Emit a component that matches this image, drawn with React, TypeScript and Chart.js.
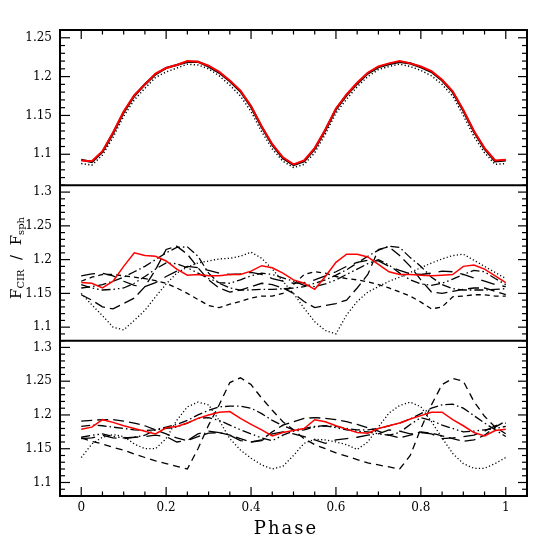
import React, { useEffect, useRef } from 'react';
import { Chart, registerables } from 'chart.js';

Chart.register(...registerables);

// ---------- data ----------
const phase = [0, 0.025, 0.05, 0.075, 0.1, 0.125, 0.15, 0.175, 0.2, 0.225, 0.25, 0.275, 0.3, 0.325, 0.35, 0.375, 0.4, 0.425, 0.45, 0.475, 0.5, 0.525, 0.55, 0.575, 0.6, 0.625, 0.65, 0.675, 0.7, 0.725, 0.75, 0.775, 0.8, 0.825, 0.85, 0.875, 0.9, 0.925, 0.95, 0.975, 1];

// top panel
const topRed = [1.092,1.091,1.104,1.128,1.155,1.176,1.190,1.204,1.211,1.215,1.220,1.219,1.214,1.206,1.195,1.182,1.162,1.136,1.113,1.096,1.087,1.092,1.108,1.132,1.159,1.177,1.192,1.205,1.213,1.217,1.220,1.217,1.213,1.207,1.196,1.181,1.157,1.130,1.108,1.092,1.093];
const topSolid = [1.093,1.090,1.103,1.127,1.154,1.175,1.190,1.203,1.211,1.215,1.219,1.219,1.213,1.205,1.194,1.181,1.161,1.135,1.112,1.095,1.086,1.091,1.107,1.131,1.158,1.176,1.191,1.204,1.212,1.216,1.219,1.217,1.212,1.206,1.195,1.180,1.156,1.129,1.107,1.091,1.092];
const topDotted = [1.088,1.086,1.099,1.122,1.149,1.170,1.185,1.199,1.206,1.211,1.216,1.215,1.210,1.201,1.189,1.175,1.155,1.129,1.107,1.091,1.083,1.087,1.102,1.126,1.153,1.171,1.187,1.200,1.209,1.213,1.216,1.213,1.208,1.201,1.190,1.175,1.150,1.123,1.102,1.087,1.088];

// middle panel
const midRed = [1.166,1.165,1.158,1.168,1.190,1.210,1.206,1.205,1.198,1.186,1.177,1.178,1.176,1.176,1.178,1.178,1.183,1.191,1.188,1.180,1.170,1.165,1.156,1.175,1.196,1.208,1.208,1.204,1.193,1.182,1.178,1.178,1.177,1.176,1.177,1.178,1.190,1.192,1.186,1.176,1.166];
const midDotted = [1.150,1.133,1.117,1.100,1.096,1.110,1.125,1.145,1.164,1.180,1.189,1.195,1.198,1.201,1.202,1.205,1.211,1.202,1.186,1.168,1.150,1.128,1.108,1.095,1.090,1.118,1.138,1.152,1.160,1.168,1.174,1.181,1.188,1.195,1.201,1.206,1.208,1.199,1.190,1.181,1.172];
const midLongDash = [1.148,1.140,1.130,1.127,1.135,1.143,1.160,1.185,1.215,1.220,1.208,1.188,1.170,1.158,1.152,1.155,1.160,1.165,1.163,1.158,1.150,1.138,1.129,1.132,1.135,1.140,1.158,1.178,1.215,1.219,1.206,1.190,1.170,1.152,1.150,1.153,1.156,1.158,1.158,1.153,1.148];
const midDashDot = [1.158,1.160,1.163,1.168,1.174,1.182,1.190,1.200,1.210,1.218,1.219,1.205,1.180,1.165,1.158,1.155,1.155,1.156,1.156,1.157,1.158,1.160,1.165,1.170,1.177,1.185,1.195,1.205,1.214,1.220,1.218,1.203,1.190,1.174,1.163,1.157,1.155,1.155,1.155,1.156,1.157];
const midShortDash = [1.168,1.174,1.178,1.178,1.176,1.174,1.172,1.169,1.165,1.158,1.150,1.141,1.132,1.129,1.134,1.138,1.143,1.146,1.146,1.150,1.163,1.178,1.182,1.180,1.175,1.172,1.170,1.167,1.163,1.158,1.152,1.146,1.137,1.127,1.130,1.145,1.146,1.148,1.148,1.146,1.146];
const midWideDash = [1.176,1.179,1.180,1.176,1.168,1.162,1.160,1.166,1.175,1.183,1.190,1.188,1.184,1.180,1.178,1.179,1.181,1.178,1.172,1.168,1.165,1.166,1.170,1.176,1.182,1.190,1.196,1.199,1.198,1.190,1.184,1.179,1.178,1.180,1.183,1.182,1.178,1.173,1.168,1.163,1.160];
const midDashDotDot = [1.163,1.158,1.155,1.156,1.158,1.165,1.175,1.186,1.195,1.194,1.188,1.180,1.172,1.166,1.165,1.170,1.176,1.180,1.178,1.173,1.168,1.162,1.160,1.164,1.170,1.178,1.186,1.194,1.200,1.192,1.180,1.170,1.164,1.162,1.165,1.171,1.178,1.184,1.182,1.172,1.163];

// bottom panel
const botRed = [1.179,1.182,1.193,1.189,1.184,1.180,1.176,1.172,1.181,1.183,1.188,1.195,1.200,1.204,1.205,1.195,1.186,1.178,1.169,1.174,1.177,1.180,1.193,1.190,1.184,1.179,1.174,1.173,1.180,1.184,1.188,1.194,1.199,1.204,1.204,1.193,1.184,1.174,1.169,1.177,1.179];
const botShortDash = [1.166,1.161,1.157,1.152,1.148,1.142,1.137,1.132,1.128,1.124,1.120,1.150,1.185,1.215,1.248,1.255,1.245,1.225,1.207,1.190,1.178,1.165,1.156,1.150,1.144,1.139,1.134,1.129,1.126,1.123,1.120,1.140,1.180,1.215,1.245,1.254,1.250,1.220,1.198,1.182,1.172];
const botDotted = [1.137,1.157,1.167,1.171,1.168,1.157,1.150,1.150,1.165,1.192,1.212,1.219,1.215,1.192,1.165,1.148,1.136,1.126,1.120,1.124,1.140,1.158,1.164,1.163,1.160,1.156,1.149,1.160,1.182,1.203,1.214,1.219,1.212,1.190,1.166,1.143,1.128,1.121,1.121,1.128,1.137];
const botDashDot = [1.183,1.185,1.184,1.182,1.180,1.178,1.177,1.178,1.182,1.186,1.192,1.200,1.207,1.212,1.213,1.213,1.210,1.202,1.192,1.184,1.178,1.180,1.183,1.184,1.183,1.180,1.178,1.178,1.180,1.184,1.188,1.194,1.202,1.210,1.215,1.216,1.210,1.199,1.188,1.178,1.168];
const botLongDash = [1.191,1.192,1.193,1.193,1.191,1.188,1.184,1.178,1.172,1.166,1.162,1.168,1.173,1.174,1.170,1.165,1.160,1.163,1.175,1.185,1.190,1.195,1.196,1.195,1.193,1.190,1.186,1.181,1.176,1.170,1.166,1.170,1.175,1.173,1.169,1.165,1.161,1.163,1.170,1.182,1.191];
const botDashDotDot = [1.167,1.170,1.172,1.168,1.166,1.167,1.170,1.178,1.180,1.182,1.188,1.195,1.196,1.192,1.185,1.178,1.172,1.166,1.162,1.170,1.176,1.178,1.182,1.184,1.181,1.178,1.176,1.175,1.172,1.170,1.174,1.186,1.196,1.192,1.185,1.180,1.175,1.176,1.178,1.180,1.183];
const botWideDash = [1.165,1.166,1.170,1.166,1.165,1.167,1.168,1.170,1.168,1.160,1.162,1.172,1.176,1.174,1.170,1.162,1.160,1.162,1.172,1.175,1.172,1.168,1.163,1.158,1.163,1.165,1.167,1.170,1.172,1.178,1.176,1.172,1.174,1.172,1.165,1.166,1.168,1.170,1.176,1.184,1.188];

// tick labels
const xTickLabels = [0, 0.2, 0.4, 0.6, 0.8, 1];
const topTickLabels = [1.1, 1.15, 1.2, 1.25];
const midTickLabels = [1.1, 1.15, 1.2, 1.25, 1.3];
const botTickLabels = [1.1, 1.15, 1.2, 1.25, 1.3];

const FONT = "'DejaVu Serif', 'Liberation Serif', serif";

const DOT = [1.2, 2.3];
const SHORT = [5, 4];
const LONG = [11, 5];
const DASHDOT = [9, 3, 1.5, 3];
const WIDE = [14, 8];
const DASHDOTDOT = [9, 3, 1.5, 3, 1.5, 3];

function ds(values: number[], axis: string, color: string, width: number, dash: number[], order: number) {
  return {
    data: phase.map((p, i) => ({ x: p, y: values[i] })),
    yAxisID: axis,
    borderColor: color,
    borderWidth: width,
    borderDash: dash,
    pointRadius: 0,
    tension: 0,
    fill: false,
    order,
  };
}

const fmt = (v: number) => String(Number(v.toFixed(2)));

const decorPlugin = {
  id: 'decor',
  afterDraw(chart: any) {
    const { ctx, chartArea: a, scales } = chart;
    const xs = scales.x;
    const yT = scales.yTop, yM = scales.yMid, yB = scales.yBot;
    ctx.save();
    ctx.strokeStyle = '#000';
    const line = (x1: number, y1: number, x2: number, y2: number) => {
      ctx.beginPath();
      ctx.moveTo(x1, y1);
      ctx.lineTo(x2, y2);
      ctx.stroke();
    };
    ctx.lineWidth = 1.2;
    for (const s of [yT, yM, yB]) {
      const lo = Math.ceil(s.min * 100 - 1e-6);
      const hi = Math.floor(s.max * 100 + 1e-6);
      for (let k = lo; k <= hi; k++) {
        const py = s.getPixelForValue(k / 100);
        const major = k % 5 === 0;
        line(a.left, py, a.left + (major ? 10 : 5), py);
        line(a.right, py, a.right - (major ? 9 : 5), py);
      }
    }
    for (let k = 0; k <= 20; k++) {
      const px = xs.getPixelForValue(k / 20);
      const len = k % 4 === 0 ? 9 : 4.5;
      line(px, yT.top, px, yT.top + len);
      line(px, yB.bottom, px, yB.bottom - len);
    }
    ctx.lineWidth = 2;
    ctx.strokeRect(a.left, a.top, a.right - a.left, a.bottom - a.top);
    line(a.left, yM.top, a.right, yM.top);
    line(a.left, yB.top, a.right, yB.top);

    // x title
    ctx.fillStyle = '#000';
    ctx.font = `18px ${FONT}`;
    (ctx as any).letterSpacing = '2px';
    ctx.textAlign = 'center';
    ctx.textBaseline = 'alphabetic';
    ctx.fillText('Phase', 286, 534);
    (ctx as any).letterSpacing = '0px';

    // y title (rotated, with subscripts)
    const pieces = [
      { t: 'F', s: 15, dy: 0 },
      { t: 'CIR', s: 10, dy: 3 },
      { t: '  /  ', s: 15, dy: 0 },
      { t: 'F', s: 15, dy: 0 },
      { t: 'sph', s: 10, dy: 3 },
    ];
    let total = 0;
    const widths = pieces.map((p) => {
      ctx.font = `${p.s}px ${FONT}`;
      const w = ctx.measureText(p.t).width;
      total += w;
      return w;
    });
    ctx.translate(21, 258);
    ctx.rotate(-Math.PI / 2);
    ctx.textAlign = 'left';
    let cx = -total / 2;
    pieces.forEach((p, i) => {
      ctx.font = `${p.s}px ${FONT}`;
      ctx.fillText(p.t, cx, p.dy);
      cx += widths[i];
    });
    ctx.restore();
  },
};

function yScale(min: number, max: number, labels: number[], weight: number) {
  return {
    type: 'linear',
    position: 'left',
    stack: 'panels',
    stackWeight: 1,
    weight,
    min,
    max,
    grid: { display: false, drawTicks: false },
    border: { display: false },
    ticks: {
      padding: 8,
      color: '#000',
      font: { family: FONT, size: 12 },
      autoSkip: false,
      callback: (v: number) => fmt(v),
    },
    afterBuildTicks: (s: any) => {
      s.ticks = labels.map((v) => ({ value: v }));
    },
    afterFit: (s: any) => {
      s.width = 60;
    },
  };
}

export default function App() {
  const ref = useRef<HTMLCanvasElement>(null);
  useEffect(() => {
    if (!ref.current) return;
    const chart = new Chart(ref.current, {
      type: 'line',
      data: {
        datasets: [
          ds(topRed, 'yTop', 'rgb(255,0,0)', 2, [], 0),
          ds(topSolid, 'yTop', '#000', 2.2, [], 1),
          ds(topDotted, 'yTop', '#000', 1.5, DOT, 1),
          ds(midRed, 'yMid', 'rgb(255,0,0)', 1.5, [], 0),
          ds(midDotted, 'yMid', '#000', 1.3, DOT, 1),
          ds(midLongDash, 'yMid', '#000', 1.3, LONG, 1),
          ds(midDashDot, 'yMid', '#000', 1.3, DASHDOT, 1),
          ds(midShortDash, 'yMid', '#000', 1.3, SHORT, 1),
          ds(midWideDash, 'yMid', '#000', 1.3, WIDE, 1),
          ds(midDashDotDot, 'yMid', '#000', 1.3, DASHDOTDOT, 1),
          ds(botRed, 'yBot', 'rgb(255,0,0)', 1.5, [], 0),
          ds(botShortDash, 'yBot', '#000', 1.3, [7, 5], 1),
          ds(botDotted, 'yBot', '#000', 1.3, DOT, 1),
          ds(botDashDot, 'yBot', '#000', 1.3, DASHDOT, 1),
          ds(botLongDash, 'yBot', '#000', 1.3, LONG, 1),
          ds(botDashDotDot, 'yBot', '#000', 1.3, DASHDOTDOT, 1),
          ds(botWideDash, 'yBot', '#000', 1.3, WIDE, 1),
        ] as any,
      },
      options: {
        animation: false,
        responsive: false,
        events: [],
        layout: { padding: { top: 30, right: 29, left: 0, bottom: 0 } },
        plugins: { legend: { display: false }, tooltip: { enabled: false }, title: { display: false } },
        scales: {
          x: {
            type: 'linear',
            position: 'bottom',
            min: -0.05,
            max: 1.05,
            grid: { display: false, drawTicks: false },
            border: { display: false },
            ticks: {
              padding: 5,
              color: '#000',
              font: { family: FONT, size: 12 },
              autoSkip: false,
              maxRotation: 0,
              callback: (v: number) => fmt(v),
            },
            afterBuildTicks: (s: any) => {
              s.ticks = xTickLabels.map((v) => ({ value: v }));
            },
            afterFit: (s: any) => {
              s.height = 60;
            },
          },
          yBot: yScale(1.08, 1.31, botTickLabels, 1),
          yMid: yScale(1.08, 1.31, midTickLabels, 2),
          yTop: yScale(1.06, 1.26, topTickLabels, 3),
        } as any,
      },
      plugins: [decorPlugin],
    });
    return () => chart.destroy();
  }, []);
  return (
    <div style={{ position: 'fixed', left: 0, top: 0, width: 556, height: 556, background: '#fff' }}>
      <canvas ref={ref} width={556} height={556} style={{ display: 'block' }} />
    </div>
  );
}
